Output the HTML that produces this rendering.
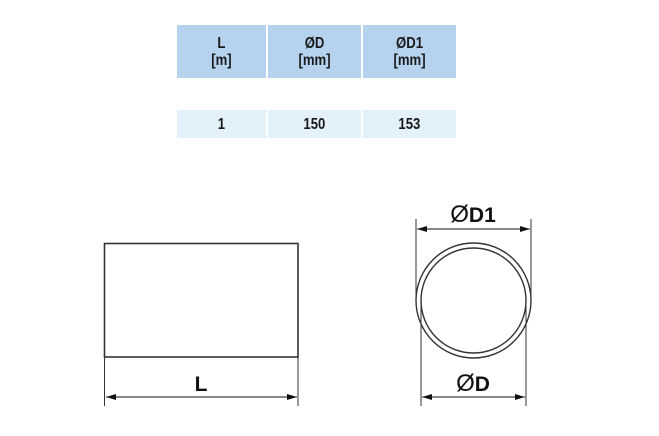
<!DOCTYPE html>
<html><head><style>
body{margin:0;background:#fff;width:659px;height:436px;overflow:hidden;font-family:"Liberation Sans",sans-serif}
.c{position:absolute;text-align:center;color:#1a1a1a;font-size:16px;line-height:17px;font-weight:bold;font-family:"Liberation Sans",sans-serif}
.c span{display:inline-block;transform:scaleX(0.82)}
</style></head><body>
<div style="position:absolute;left:177px;top:25px;width:89px;height:53px;background:#b5d3ee"></div>
<div style="position:absolute;left:268px;top:25px;width:93px;height:53px;background:#b5d3ee"></div>
<div style="position:absolute;left:363px;top:25px;width:93px;height:53px;background:#b5d3ee"></div>
<div style="position:absolute;left:177px;top:110px;width:89px;height:28px;background:#e3f1fb"></div>
<div style="position:absolute;left:268px;top:110px;width:93px;height:28px;background:#e3f1fb"></div>
<div style="position:absolute;left:363px;top:110px;width:93px;height:28px;background:#e3f1fb"></div>
<div class="c" style="left:177px;top:35px;width:89px"><span>L<br>[m]</span></div>
<div class="c" style="left:268px;top:35px;width:93px"><span>ØD<br>[mm]</span></div>
<div class="c" style="left:363px;top:35px;width:93px"><span>ØD1<br>[mm]</span></div>
<div class="c" style="left:177px;top:116px;width:89px"><span>1</span></div>
<div class="c" style="left:268px;top:116px;width:93px"><span>150</span></div>
<div class="c" style="left:363px;top:116px;width:93px"><span>153</span></div>
<svg width="659" height="436" style="position:absolute;left:0;top:0">
<defs><marker id="a" viewBox="0 0 10 6" refX="10" refY="3" markerWidth="10" markerHeight="6" markerUnits="userSpaceOnUse" orient="auto-start-reverse"><path d="M0,0L10,3L0,6z" fill="#111"/></marker></defs>
<g stroke="#333" fill="none">
<rect x="104.5" y="243.5" width="193.5" height="113.5" stroke-width="1.6"/>
<line x1="104.5" y1="357" x2="104.5" y2="406" stroke-width="1"/>
<line x1="298" y1="357" x2="298" y2="406" stroke-width="1"/>
<line x1="106" y1="397" x2="297" y2="397" stroke="#111" marker-start="url(#a)" marker-end="url(#a)"/>
<circle cx="473.5" cy="300.5" r="57.5" stroke-width="1.4"/>
<circle cx="473.5" cy="300.5" r="52.5" stroke-width="1.4"/>
<line x1="416" y1="219" x2="416" y2="300" stroke-width="1"/>
<line x1="531" y1="219" x2="531" y2="300" stroke-width="1"/>
<line x1="421" y1="300" x2="421" y2="406" stroke-width="1"/>
<line x1="526" y1="300" x2="526" y2="406" stroke-width="1"/>
<line x1="417" y1="229" x2="530" y2="229" stroke="#111" marker-start="url(#a)" marker-end="url(#a)"/>
<line x1="422" y1="397" x2="525" y2="397" stroke="#111" marker-start="url(#a)" marker-end="url(#a)"/>
</g>
<g font-family="Liberation Sans,sans-serif" font-weight="bold" fill="#111" font-size="21">
<text x="201" y="391" text-anchor="middle">L</text>
<text x="473" y="222" text-anchor="middle"><tspan font-weight="normal" font-size="24">Ø</tspan>D1</text>
<text x="473" y="391" text-anchor="middle"><tspan font-weight="normal" font-size="24">Ø</tspan>D</text>
</g>
</svg>
</body></html>
